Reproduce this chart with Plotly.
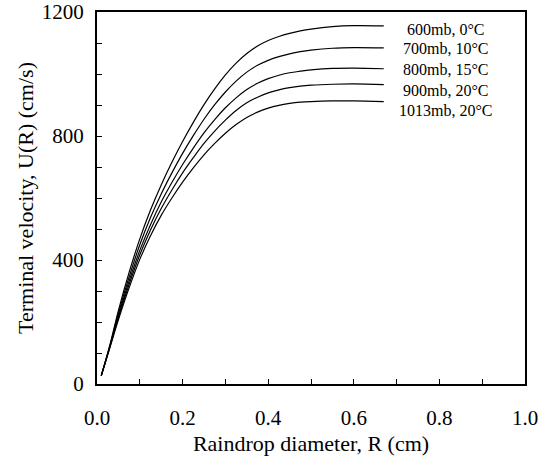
import plotly.graph_objects as go

# raindrop diameter (cm)
diam = [0.01, 0.03, 0.05, 0.075, 0.10, 0.125, 0.15, 0.175, 0.20, 0.225, 0.25, 0.275,
        0.30, 0.325, 0.35, 0.375, 0.40, 0.425, 0.45, 0.475, 0.50, 0.55, 0.60, 0.67]

# terminal velocity (cm/s)
u_600 = [27, 125, 237, 360, 468, 561, 642, 715, 782, 844, 901, 952,
         997, 1035, 1066, 1090, 1108, 1121, 1131, 1139, 1145, 1153, 1156, 1155]
u_700 = [27, 123, 228, 345, 449, 537, 613, 681, 744, 801, 854, 901,
         942, 977, 1006, 1028, 1044, 1056, 1065, 1072, 1077, 1083, 1085, 1084]
u_800 = [27, 120, 220, 332, 431, 514, 587, 650, 708, 761, 810, 853,
         891, 923, 950, 970, 985, 996, 1004, 1009, 1013, 1018, 1019, 1017]
u_900 = [27, 119, 214, 321, 417, 497, 566, 626, 681, 730, 776, 816,
         851, 882, 907, 925, 939, 949, 956, 961, 964, 967, 968, 966]
u_1013 = [27, 117, 207, 310, 402, 478, 544, 600, 651, 697, 739, 776,
          809, 837, 860, 877, 890, 899, 905, 909, 911, 913, 913, 911]

labels = ["600mb, 0°C", "700mb, 10°C", "800mb, 15°C", "900mb, 20°C", "1013mb, 20°C"]
label_y = [1145, 1081, 1013, 948, 881]

serif = "Liberation Serif"

fig = go.Figure()
for u, name in zip([u_600, u_700, u_800, u_900, u_1013], labels):
    fig.add_trace(go.Scatter(x=diam, y=u, mode="lines", name=name,
                             line=dict(color="black", width=1.2, shape="spline")))

for txt, yy in zip(labels, label_y):
    fig.add_annotation(x=0.815, y=yy, text=txt, showarrow=False,
                       xanchor="center", yanchor="middle",
                       font=dict(family=serif, size=16, color="black"))

fig.update_layout(
    width=544, height=463,
    margin=dict(l=97, r=19, t=12, b=79),
    paper_bgcolor="white", plot_bgcolor="white",
    showlegend=False,
    font=dict(family=serif, color="black"),
)
fig.update_xaxes(range=[0, 1], tick0=0, dtick=0.2, tickformat=".1f",
                 ticks="inside", ticklen=5, tickcolor="black", ticklabelstandoff=14,
                 ticklabeloverflow="allow",
                 minor=dict(dtick=0.1, ticks="inside", ticklen=5, tickcolor="black"),
                 showgrid=False, zeroline=False, automargin=False,
                 showline=True, linecolor="black", linewidth=2, mirror=True,
                 tickfont=dict(size=21),
                 title=dict(text="Raindrop diameter, R (cm)", font=dict(size=22), standoff=6))
fig.update_yaxes(range=[0, 1200], tick0=0, dtick=400,
                 ticks="inside", ticklen=5, tickcolor="black", ticklabelstandoff=7,
                 ticklabeloverflow="allow",
                 minor=dict(dtick=100, ticks="inside", ticklen=5, tickcolor="black"),
                 showgrid=False, zeroline=False, automargin=False,
                 showline=True, linecolor="black", linewidth=2, mirror=True,
                 tickfont=dict(size=21),
                 title=dict(text="Terminal velocity, U(R) (cm/s)", font=dict(size=22), standoff=2))

# drop the default 8px page margin so the figure fills the window
fig.write_html("out.html", config={"displayModeBar": False},
               post_script="document.body.style.margin='0';")
